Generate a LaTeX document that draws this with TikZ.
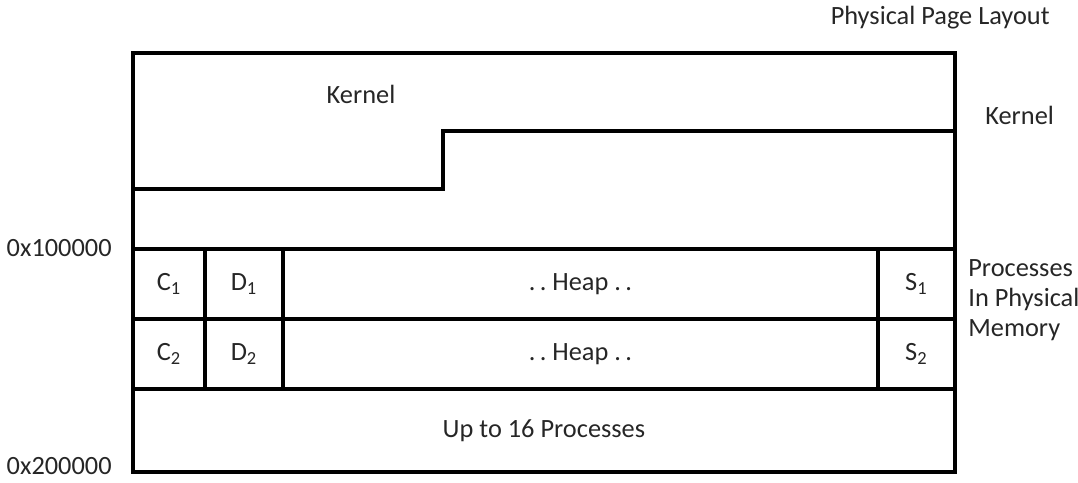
\documentclass[tikz,border=0pt]{standalone}
\usepackage{fontspec}
\setmainfont{Carlito}
\usetikzlibrary{positioning}
\definecolor{ink}{HTML}{262626}

\begin{document}
\begin{tikzpicture}[x=0.02cm, y=-0.02cm, font=\fontsize{15}{17}\selectfont, text=ink, node distance=0pt,
  cell/.style={draw, line width=1.9pt, outer sep=0pt, inner sep=0pt, minimum height=1.4cm},
  lbl/.style={inner sep=0pt}]
  \useasboundingbox (0,0) rectangle (1078,483);
  % kernel area with its step
  \node[cell, anchor=north west, minimum width=16.44cm, minimum height=3.92cm] (kern) at (133,53) {};
  \node[lbl] (kernlbl) at (361,94) {Kernel};
  \draw[line width=1.9pt] (133,189) -- (443,189) -- (443,131) -- (955,131);
  % process rows
  \node[cell, anchor=north west, minimum width=1.44cm] (c1) at (133,249) {C\textsubscript{1}};
  \node[cell, right=of c1, minimum width=1.56cm] (d1) {D\textsubscript{1}};
  \node[cell, right=of d1, minimum width=11.9cm] (heap1) {.\,.\ Heap .\,.};
  \node[cell, right=of heap1, minimum width=1.54cm] (s1) {S\textsubscript{1}};
  \node[cell, below=of c1, minimum width=1.44cm] (c2) {C\textsubscript{2}};
  \node[cell, right=of c2, minimum width=1.56cm] (d2) {D\textsubscript{2}};
  \node[cell, right=of d2, minimum width=11.9cm] (heap2) {.\,.\ Heap .\,.};
  \node[cell, right=of heap2, minimum width=1.54cm] (s2) {S\textsubscript{2}};
  \node[cell, anchor=north west, minimum width=16.44cm, minimum height=1.66cm] (rest) at (c2.south west) {Up to 16 Processes};
  % labels round the box
  \node[lbl, anchor=east] (layout) at (1050,18) {Physical Page Layout};
  \node[lbl, anchor=west] (kside) at (985,115) {Kernel};
  \node[lbl, anchor=west, align=left] (procs) at (968,300) {Processes\\In Physical\\Memory};
  \node[lbl, anchor=east] (lo) at (112,248) {0x100000};
  \node[lbl, anchor=east] (hi) at (112,466) {0x200000};
\end{tikzpicture}
\end{document}
